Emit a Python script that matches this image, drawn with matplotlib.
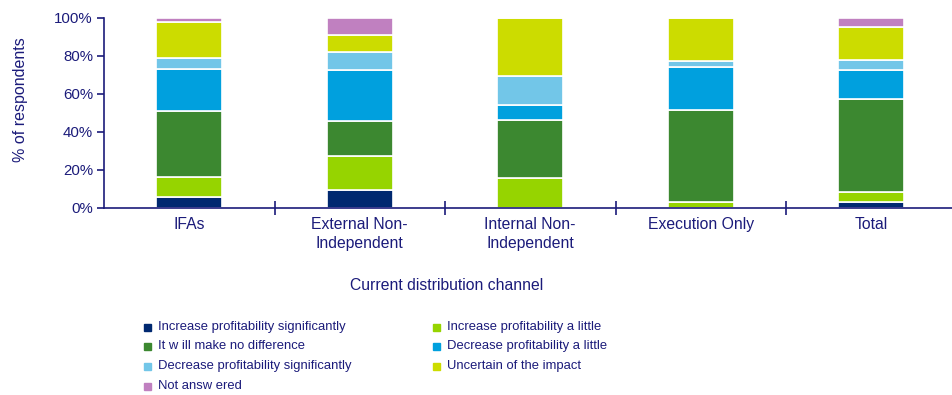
import numpy as np
import matplotlib
matplotlib.use("Agg")
import matplotlib.pyplot as plt

plt.rcParams['font.family'] = ['Liberation Sans', 'DejaVu Sans']

TEXT = '#1b1b7a'

channels = ["IFAs", "External Non-\nIndependent", "Internal Non-\nIndependent",
            "Execution Only", "Total"]

responses = [
    "Increase profitability significantly",
    "Increase profitability a little",
    "It w ill make no difference",
    "Decrease profitability a little",
    "Decrease profitability significantly",
    "Uncertain of the impact",
    "Not answ ered",
]
colors = ['#002870', '#96d400', '#3c8830', '#00a0de', '#72c6e8', '#ccdc00', '#c080c0']

# share of respondents (%) per channel, one list per response
inc_sig   = [5.4,  9.09,  0.0,  0.0,  3.0]
inc_lit   = [10.9, 18.18, 15.4, 3.2,  5.4]
no_diff   = [34.8, 18.18, 30.8, 48.4, 48.9]
dec_lit   = [21.9, 27.27, 7.7,  22.6, 15.0]
dec_sig   = [5.6,  9.09,  15.4, 3.2,  5.3]
uncertain = [19.1, 9.09,  30.7, 22.6, 17.5]
not_ans   = [2.3,  9.10,  0.0,  0.0,  4.9]

series = [inc_sig, inc_lit, no_diff, dec_lit, dec_sig, uncertain, not_ans]

W, H = 953, 395
fig = plt.figure(figsize=(W / 100, H / 100), dpi=100)
ax = fig.add_axes([104 / W, 1 - 207.7 / H, 852.5 / W, 190 / H])

x = np.arange(len(channels))
bottom = np.zeros(len(channels))
for vals, col in zip(series, colors):
    vals = np.array(vals)
    ax.bar(x, vals, 0.39, bottom=bottom, color=col, edgecolor='white', linewidth=1.2)
    bottom += vals

ax.set_xlim(-0.5, len(channels) - 0.5)
ax.set_ylim(0, 100)
ax.set_yticks(np.arange(0, 101, 20))
ax.set_yticklabels([f"{v}%" for v in range(0, 101, 20)])
ax.set_xticks(x)
ax.set_xticklabels(channels, linespacing=1.3)
ax.set_xticks(np.arange(0.5, len(channels) - 0.5, 1), minor=True)

for s in ['top', 'right']:
    ax.spines[s].set_visible(False)
for s in ['left', 'bottom']:
    ax.spines[s].set_color(TEXT)
    ax.spines[s].set_linewidth(1.2)

ax.tick_params(axis='y', colors=TEXT, labelsize=10.8, length=5, width=1.2, pad=3)
ax.tick_params(axis='x', which='major', length=0, labelsize=11.3, labelcolor=TEXT, pad=7)
ax.tick_params(axis='x', which='minor', direction='inout', length=10, width=1.2, color=TEXT)

fig.text(21 / W, 1 - 100 / H, "% of respondents", rotation=90, ha='center', va='center',
         fontsize=11.5, color=TEXT)
fig.text(447 / W, 1 - 285 / H, "Current distribution channel", ha='center', va='center',
         fontsize=11.3, color=TEXT)

# legend laid out in two columns beneath the axes
rows_y = [327, 346, 366, 386]
col_x = [148, 437]
for i, (lab, col) in enumerate(zip(responses, colors)):
    cx = col_x[i % 2]
    cy = rows_y[i // 2]
    fig.patches.append(plt.Rectangle(((cx - 3.5) / W, 1 - (cy + 3.5) / H), 7 / W, 7 / H,
                                     transform=fig.transFigure, color=col))
    fig.text((cx + 10) / W, 1 - cy / H, lab, ha='left', va='center',
             fontsize=9.4, color=TEXT)

fig.savefig("out.png", dpi=100)
